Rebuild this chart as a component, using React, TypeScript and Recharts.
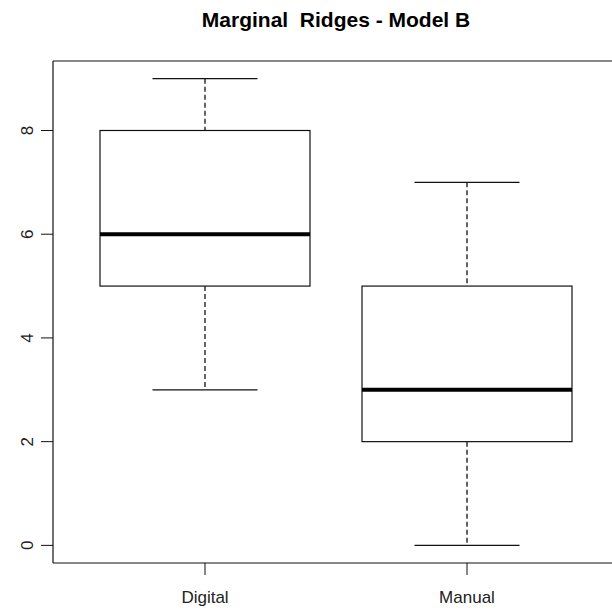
import React from "react"
import { ComposedChart, Bar, XAxis, YAxis, ReferenceLine } from "recharts"

const groups = ["Digital", "Manual"]
const mins = [3, 0]
const q1s = [5, 2]
const medians = [6, 3]
const q3s = [8, 5]
const maxs = [9, 7]
const yTicks = [0, 2, 4, 6, 8]
const yDomain = [-0.34, 9.34]

const data = groups.map((name, i) => ({
  name,
  box: [q1s[i], q3s[i]],
  min: mins[i],
  q1: q1s[i],
  median: medians[i],
  q3: q3s[i],
  max: maxs[i],
}))

const FONT = "'Liberation Sans', Arial, sans-serif"
const INK = "#111"

// draws one box + whiskers from the bar geometry (bar spans q1..q3)
function BoxShape(props: any) {
  const { x, y, width, height, payload } = props
  const top = Math.min(y, y + height)
  const h = Math.abs(height)
  const ppu = h / (payload.q3 - payload.q1)
  const py = (v: number) => top + (payload.q3 - v) * ppu
  const cx = x + width / 2
  const cap = width / 4
  return (
    <g>
      <line x1={cx} x2={cx} y1={py(payload.max)} y2={top} stroke={INK} strokeWidth={1.3} strokeDasharray="5 3" />
      <line x1={cx} x2={cx} y1={top + h} y2={py(payload.min)} stroke={INK} strokeWidth={1.3} strokeDasharray="5 3" />
      <line x1={cx - cap} x2={cx + cap} y1={py(payload.max)} y2={py(payload.max)} stroke={INK} strokeWidth={1.2} />
      <line x1={cx - cap} x2={cx + cap} y1={py(payload.min)} y2={py(payload.min)} stroke={INK} strokeWidth={1.2} />
      <rect x={x} y={top} width={width} height={h} fill="#fff" stroke={INK} strokeWidth={1.2} />
      <line x1={x} x2={x + width} y1={py(payload.median)} y2={py(payload.median)} stroke="#000" strokeWidth={4} />
    </g>
  )
}

function YTick(props: any) {
  const { x, y, payload } = props
  return (
    <text
      transform={`translate(${x - 6},${y}) rotate(-90)`}
      textAnchor="middle"
      fontSize={17}
      fontFamily={FONT}
      fill="#222"
    >
      {payload.value}
    </text>
  )
}

function XTick(props: any) {
  const { x, y, payload } = props
  return (
    <text x={x} y={y + 26} textAnchor="middle" fontSize={17} fontFamily={FONT} fill="#222">
      {payload.value}
    </text>
  )
}

export default function App() {
  return (
    <div style={{ position: "absolute", left: 0, top: 0, width: 612, height: 611, background: "#fff", overflow: "hidden" }}>
      <svg width={612} height={60} style={{ position: "absolute", left: 0, top: 0 }}>
        <text x={336} y={27} textAnchor="middle" fontSize={21} fontWeight="bold" fontFamily={FONT} fill="#000" style={{ whiteSpace: "pre" }}>
          {"Marginal  Ridges - Model B"}
        </text>
      </svg>
      <ComposedChart
        width={619}
        height={611}
        data={data}
        margin={{ top: 61, right: 0, bottom: 0, left: 0 }}
      >
        <XAxis
          dataKey="name"
          type="category"
          padding={{ left: 21, right: 21 }}
          height={48}
          tickSize={12}
          tickLine={{ stroke: INK }}
          axisLine={{ stroke: INK, strokeWidth: 1.2 }}
          tick={<XTick />}
          interval={0}
        />
        <YAxis
          type="number"
          domain={yDomain}
          ticks={yTicks}
          width={53}
          tickSize={12}
          tickLine={{ stroke: INK }}
          axisLine={{ stroke: INK, strokeWidth: 1.2 }}
          tick={<YTick />}
          allowDataOverflow
        />
        <ReferenceLine y={yDomain[1]} stroke={INK} strokeWidth={1.2} ifOverflow="visible" />
        <Bar dataKey="box" barSize={210} shape={<BoxShape />} isAnimationActive={false} />
      </ComposedChart>
    </div>
  )
}
